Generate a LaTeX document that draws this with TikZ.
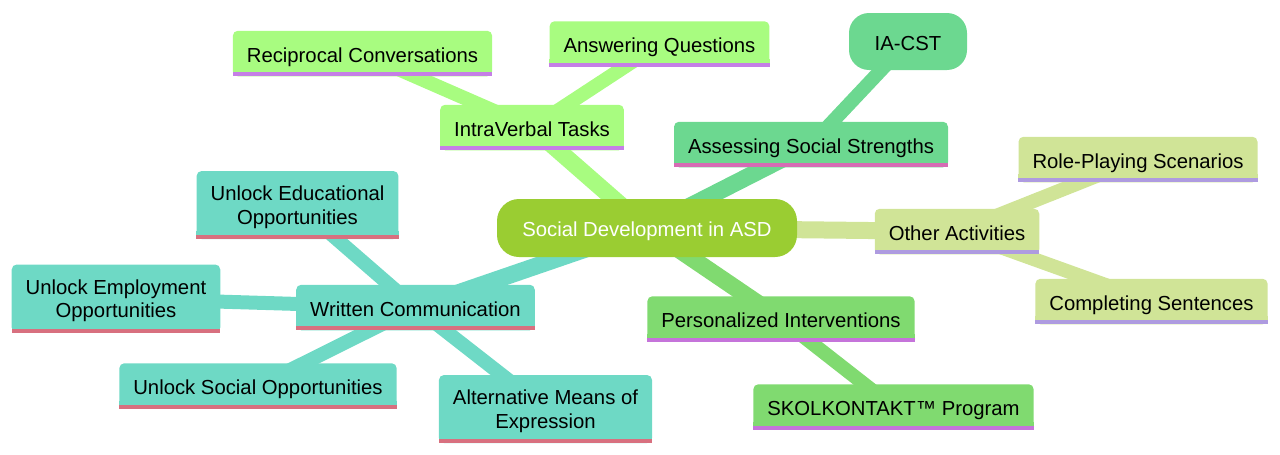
\documentclass[tikz,border=0pt]{standalone}
\usepackage{fontspec}
\setmainfont{Liberation Sans}
\usetikzlibrary{backgrounds}
\definecolor{rootc}{HTML}{9ACD32}
\definecolor{ivc}{HTML}{A8FC80}
\definecolor{ivl}{HTML}{C57FE6}
\definecolor{asc}{HTML}{6CD890}
\definecolor{asl}{HTML}{D66CB4}
\definecolor{otc}{HTML}{D0E497}
\definecolor{otl}{HTML}{AE9BE0}
\definecolor{pec}{HTML}{80DA70}
\definecolor{pel}{HTML}{C574DA}
\definecolor{wrc}{HTML}{6ED9C5}
\definecolor{wrl}{HTML}{D8707F}
\tikzset{
  leaf/.style={rounded corners=5pt, inner xsep=14pt, inner ysep=0pt,
    minimum height=45.5pt, align=center, text=black, text depth=0pt,
    font=\fontsize{20.3}{23.5}\selectfont},
  oneline/.style={text height=17pt},
  twoline/.style={minimum height=68pt},
  rootnode/.style={fill=rootc, rounded corners=22pt, minimum width=300pt,
    minimum height=58pt, text=white, text height=17pt, text depth=0pt,
    font=\fontsize{20.3}{23.5}\selectfont},
  pill/.style={rounded corners=20pt, minimum width=118pt, minimum height=57pt,
    text=black, text height=17pt, text depth=0pt,
    font=\fontsize{20.3}{23.5}\selectfont},
  e0/.style={line width=17pt},
  e1/.style={line width=14pt},
}
\newcommand\mmleaf[6][oneline]{%
  \node[leaf,fill=#4,#1] (#2) at (#3) {#6};
  \fill[#4] ([yshift=8pt]#2.south west) rectangle (#2.south east);
  \fill[#5] ([yshift=4pt]#2.south west) rectangle (#2.south east);
}
\begin{document}
\begin{tikzpicture}[x=1pt,y=-1pt]
\useasboundingbox (0,0) rectangle (1280,455);
\node[rootnode] (root) at (647,228) {Social Development in ASD};
% IntraVerbal section
\mmleaf{iv}{532,127.5}{ivc}{ivl}{IntraVerbal Tasks}
\mmleaf{rc}{362.5,53.5}{ivc}{ivl}{Reciprocal Conversations}
\mmleaf{aq}{659.5,44}{ivc}{ivl}{Answering Questions}
% Assessing section
\mmleaf{as}{811,144.5}{asc}{asl}{Assessing Social Strengths}
\node[pill,fill=asc] (ia) at (908,41.5) {IA-CST};
% Other activities section
\mmleaf{ot}{957,231.5}{otc}{otl}{Other Activities}
\mmleaf{rp}{1138,159.5}{otc}{otl}{Role-Playing Scenarios}
\mmleaf{cs}{1151.5,301.5}{otc}{otl}{Completing Sentences}
% Personalized section
\mmleaf{pi}{781,319}{pec}{pel}{Personalized Interventions}
\mmleaf{sk}{893.5,407}{pec}{pel}{SKOLKONTAKT™ Program}
% Written section
\mmleaf{wc}{415.5,307.5}{wrc}{wrl}{Written Communication}
\mmleaf[twoline]{ed}{297.5,205}{wrc}{wrl}{Unlock Educational\\Opportunities}
\mmleaf[twoline]{em}{116,298.5}{wrc}{wrl}{Unlock Employment\\Opportunities}
\mmleaf{so}{258,386}{wrc}{wrl}{Unlock Social Opportunities}
\mmleaf[twoline]{al}{545.5,409}{wrc}{wrl}{Alternative Means of\\Expression}
\begin{scope}[on background layer]
  \draw[e0,ivc] (root.center) -- (iv.center);
  \draw[e1,ivc] (iv.center) -- (rc.center);
  \draw[e1,ivc] (iv.center) -- (aq.center);
  \draw[e0,asc] (root.center) -- (as.center);
  \draw[e1,asc] (as.center) -- (ia.center);
  \draw[e0,otc] (root.center) -- (ot.center);
  \draw[e1,otc] (ot.center) -- (rp.center);
  \draw[e1,otc] (ot.center) -- (cs.center);
  \draw[e0,pec] (root.center) -- (pi.center);
  \draw[e1,pec] (pi.center) -- (sk.center);
  \draw[e0,wrc] (root.center) -- (wc.center);
  \draw[e1,wrc] (wc.center) -- (ed.center);
  \draw[e1,wrc] (wc.center) -- (em.center);
  \draw[e1,wrc] (wc.center) -- (so.center);
  \draw[e1,wrc] (wc.center) -- (al.center);
\end{scope}
\end{tikzpicture}
\end{document}
